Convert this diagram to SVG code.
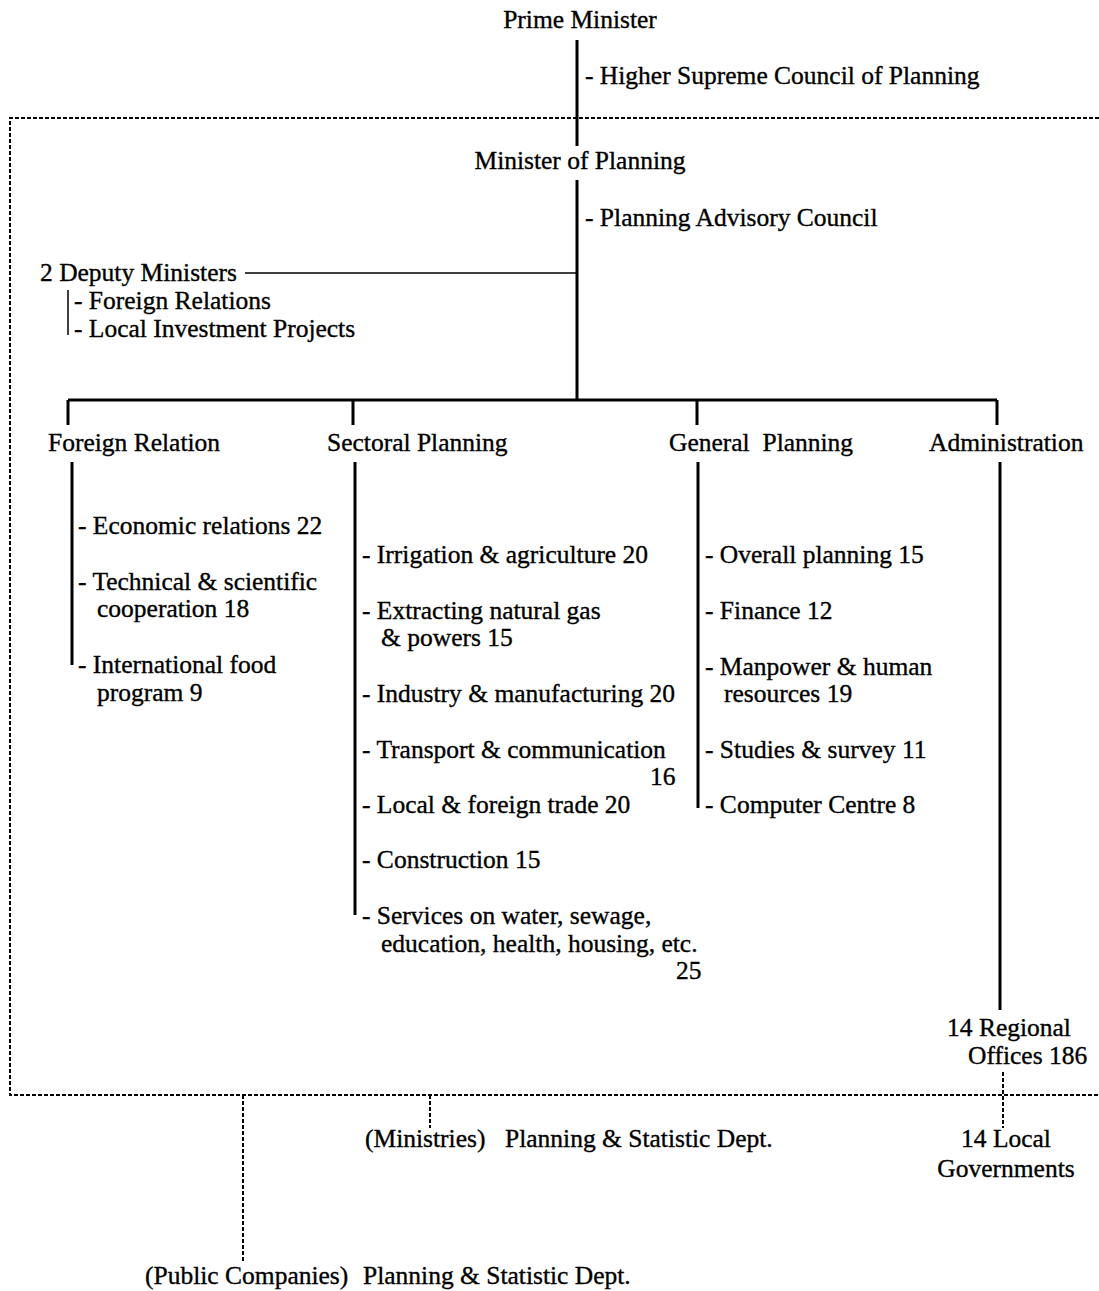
<svg xmlns="http://www.w3.org/2000/svg" width="1099" height="1291" viewBox="0 0 1099 1291">
<style>
text{font-family:"Liberation Serif","Times New Roman",serif;font-size:25.5px;fill:#000;stroke:#000;stroke-width:0.35}
.c{text-anchor:middle}
.s{stroke:#000;stroke-width:3;fill:none}
.t{stroke:#000;stroke-width:1.5;fill:none}
.d{stroke:#000;stroke-width:2;stroke-dasharray:4 2;fill:none}
</style>
<rect width="1099" height="1291" fill="#fff"/>
<g id="connectors">
<path class="d" d="M1099 118H10V1095H1099"/>
<path class="s" d="M577 40V146M577 180V400M68 400H997M68 400V425M353 400V425M697 400V425M997 400V425"/>
<path class="t" d="M245 273H577M68 290V335"/>
<path class="s" d="M72 462V665M355 462V915M698 462V808M1000 462V1010"/>
<path class="d" d="M1003 1072V1128M243 1095V1262M430 1095V1128"/>
</g>
<g id="prime-minister"><text class="c" x="580" y="28">Prime Minister</text></g>
<g id="higher-council"><text x="585" y="84">- Higher Supreme Council of Planning</text></g>
<g id="minister-planning"><text class="c" x="580" y="169">Minister of Planning</text></g>
<g id="advisory-council"><text x="585" y="226">- Planning Advisory Council</text></g>
<g id="deputy-ministers">
<text x="40" y="281">2 Deputy Ministers</text>
<text x="74" y="309">- Foreign Relations</text>
<text x="74" y="337">- Local Investment Projects</text>
</g>
<g id="foreign-relation">
<text x="48" y="451">Foreign Relation</text>
<text x="78" y="534">- Economic relations 22</text>
<text x="78" y="590">- Technical &amp; scientific</text>
<text x="97" y="617">cooperation 18</text>
<text x="78" y="673">- International food</text>
<text x="97" y="701">program 9</text>
</g>
<g id="sectoral-planning">
<text x="327" y="451">Sectoral Planning</text>
<text x="362" y="563">- Irrigation &amp; agriculture 20</text>
<text x="362" y="619">- Extracting natural gas</text>
<text x="381" y="646">&amp; powers 15</text>
<text x="362" y="702">- Industry &amp; manufacturing 20</text>
<text x="362" y="758">- Transport &amp; communication</text>
<text x="650" y="785">16</text>
<text x="362" y="813">- Local &amp; foreign trade 20</text>
<text x="362" y="868">- Construction 15</text>
<text x="362" y="924">- Services on water, sewage,</text>
<text x="381" y="952">education, health, housing, etc.</text>
<text x="676" y="979">25</text>
</g>
<g id="general-planning">
<text x="669" y="451" xml:space="preserve">General  Planning</text>
<text x="705" y="563">- Overall planning 15</text>
<text x="705" y="619">- Finance 12</text>
<text x="705" y="675">- Manpower &amp; human</text>
<text x="724" y="702">resources 19</text>
<text x="705" y="758">- Studies &amp; survey 11</text>
<text x="705" y="813">- Computer Centre 8</text>
</g>
<g id="administration">
<text x="929" y="451">Administration</text>
<text x="947" y="1036">14 Regional</text>
<text x="968" y="1064">Offices 186</text>
</g>
<g id="local-governments">
<text class="c" x="1006" y="1147">14 Local</text>
<text class="c" x="1006" y="1177">Governments</text>
</g>
<g id="ministries">
<text x="365" y="1147">(Ministries)</text>
<text x="505" y="1147">Planning &amp; Statistic Dept.</text>
</g>
<g id="public-companies">
<text x="145" y="1284">(Public Companies)</text>
<text x="363" y="1284">Planning &amp; Statistic Dept.</text>
</g>
</svg>
